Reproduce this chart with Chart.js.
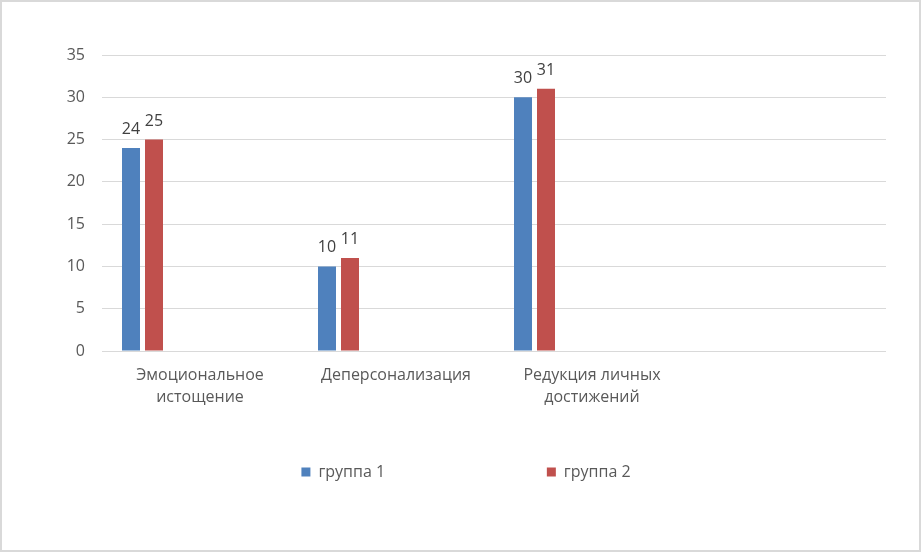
<!DOCTYPE html>
<html>
<head>
<meta charset="utf-8">
<script src="https://cdn.jsdelivr.net/npm/chart.js@4.4.0/dist/chart.umd.min.js"></script>
<style>
html, body { margin: 0; padding: 0; background: #ffffff; }
#frame { position: absolute; left: 0; top: 0; width: 921px; height: 552px; box-sizing: border-box; border: 2px solid #d9d9d9; background: #ffffff; }
#box { position: absolute; left: 0; top: 0; width: 921px; height: 552px; }
</style>
</head>
<body>
<div id="frame"></div>
<div id="box"><canvas id="chart"></canvas></div>
<script>
// ---- data ----
const categories = [['Эмоциональное', 'истощение'], 'Деперсонализация', ['Редукция личных', 'достижений'], ''];
const seriesNames = ['группа 1', 'группа 2'];
const group1 = [24, 10, 30, null];
const group2 = [25, 11, 31, null];
const yTicks = [0, 5, 10, 15, 20, 25, 30, 35];

// ---- styles ----
const colors = ['#4F81BD', '#C0504D'];
const FONT = 'Open Sans';
Chart.defaults.font.family = FONT;
Chart.defaults.font.size = 16;

const seriesData = [group1, group2];
const datasets = seriesData.map((d, i) => ({
  label: seriesNames[i],
  data: d,
  backgroundColor: colors[i],
  borderWidth: 0
}));
// empty slot datasets (reserve group space like the original layout)
for (let k = 0; k < 5; k++) {
  datasets.push({ label: '', data: [], backgroundColor: 'rgba(0,0,0,0)', borderWidth: 0 });
}

const valueLabels = {
  id: 'valueLabels',
  afterDatasetsDraw(chart) {
    const ctx = chart.ctx;
    ctx.save();
    ctx.font = '16px "' + FONT + '"';
    ctx.fillStyle = '#404040';
    ctx.textAlign = 'center';
    ctx.textBaseline = 'alphabetic';
    seriesData.forEach((d, di) => {
      const meta = chart.getDatasetMeta(di);
      meta.data.forEach((bar, i) => {
        const v = d[i];
        if (v === null || v === undefined) return;
        ctx.fillText(String(v), bar.x, bar.y - 14);
      });
    });
    ctx.restore();
  }
};

new Chart(document.getElementById('chart'), {
  type: 'bar',
  data: { labels: categories, datasets: datasets },
  options: {
    responsive: true,
    maintainAspectRatio: false,
    animation: false,
    categoryPercentage: 161 / 196,
    barPercentage: 18 / 23,
    layout: { padding: { left: 46, right: 35, top: 55, bottom: 62 } },
    scales: {
      x: {
        grid: { display: false, drawTicks: false },
        border: { display: false },
        ticks: { color: '#595959', font: { size: 16, lineHeight: 1.35 }, padding: 14, maxRotation: 0, autoSkip: false },
        afterFit(scale) { scale.height = 103; }
      },
      y: {
        min: yTicks[0],
        max: yTicks[yTicks.length - 1],
        grid: { color: '#d9d9d9', lineWidth: 1, drawTicks: false },
        border: { display: false },
        ticks: { stepSize: yTicks[1] - yTicks[0], color: '#595959', font: { size: 16 }, padding: 17 },
        afterFit(scale) { scale.width = 56; }
      }
    },
    plugins: {
      tooltip: { enabled: false },
      legend: {
        position: 'bottom',
        labels: {
          boxWidth: 9,
          boxHeight: 9,
          padding: 10,
          color: '#595959',
          font: { size: 16 },
          generateLabels() {
            const items = seriesNames.map((n, i) => ({
              text: n, fillStyle: colors[i], strokeStyle: colors[i], lineWidth: 0,
              hidden: false, datasetIndex: i, fontColor: '#595959'
            }));
            const spacer = {
              text: ' '.repeat(30), fillStyle: 'rgba(0,0,0,0)', strokeStyle: 'rgba(0,0,0,0)',
              lineWidth: 0, hidden: false, fontColor: 'rgba(0,0,0,0)'
            };
            return [items[0], spacer, items[1]];
          }
        }
      }
    }
  },
  plugins: [valueLabels]
});
</script>
</body>
</html>
